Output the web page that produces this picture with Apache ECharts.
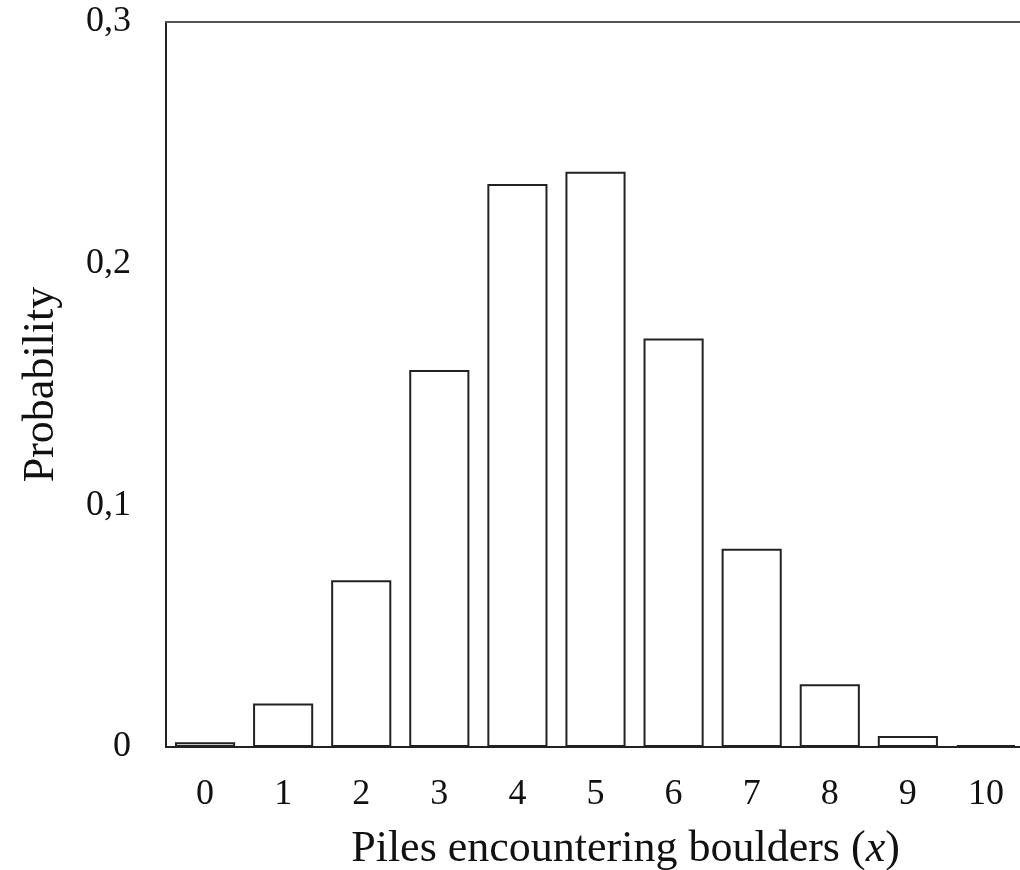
<!DOCTYPE html>
<html>
<head>
<meta charset="utf-8">
<script src="https://cdn.jsdelivr.net/npm/echarts@6/dist/echarts.min.js"></script>
<style>html,body{margin:0;padding:0;background:#fff;overflow:hidden}#c{width:1020px;height:870px}</style>
</head>
<body>
<div id="c"></div>
<script>
const categories = ['0','1','2','3','4','5','6','7','8','9','10'];
const probabilities = [0.002, 0.018, 0.069, 0.156, 0.233, 0.238, 0.169, 0.082, 0.026, 0.0046, 0.0008];
const yTicks = [0, 0.1, 0.2, 0.3];
const xTitle = 'Piles encountering boulders (';
const yTitle = 'Probability';

const font = '"Liberation Serif", "Times New Roman", serif';
const chart = echarts.init(document.getElementById('c'));
chart.setOption({
  animation: false,
  backgroundColor: '#fff',
  grid: { left: 166, width: 859, top: 22, height: 725, outerBoundsMode: 'none', containLabel: false },
  xAxis: [{
    type: 'category',
    data: categories,
    axisLine: { lineStyle: { color: '#222', width: 2 } },
    axisTick: { alignWithLabel: true, length: 7, lineStyle: { color: '#222', width: 2 } },
    axisLabel: { fontFamily: font, fontSize: 36, color: '#111', margin: 30 },
    name: '{a|' + xTitle + '}{i|x}{a|)}',
    nameLocation: 'middle',
    nameGap: 80,
    nameTextStyle: {
      padding: [0, 0, 0, 60],
      rich: {
        a: { fontFamily: font, fontSize: 44, color: '#111' },
        i: { fontFamily: font, fontSize: 44, color: '#111', fontStyle: 'italic' }
      }
    }
  }, {
    type: 'category',
    data: categories,
    position: 'top',
    axisLine: { show: true, lineStyle: { color: '#555', width: 2 } },
    axisTick: { show: false },
    axisLabel: { show: false }
  }],
  yAxis: {
    type: 'value',
    min: yTicks[0],
    max: yTicks[yTicks.length - 1],
    interval: 0.1,
    splitLine: { show: false },
    axisLine: { show: true, lineStyle: { color: '#222', width: 2 } },
    axisTick: { show: false },
    axisLabel: {
      fontFamily: font, fontSize: 36, color: '#111', margin: 35,
      formatter: v => String(Math.round(v * 10) / 10).replace('.', ',')
    },
    name: yTitle,
    nameLocation: 'middle',
    nameGap: 103,
    nameTextStyle: { fontFamily: font, fontSize: 44, color: '#111' }
  },
  series: [{
    type: 'bar',
    data: probabilities,
    barCategoryGap: '23%',
    itemStyle: { color: '#fff', borderColor: '#222', borderWidth: 2 }
  }]
});
</script>
</body>
</html>
